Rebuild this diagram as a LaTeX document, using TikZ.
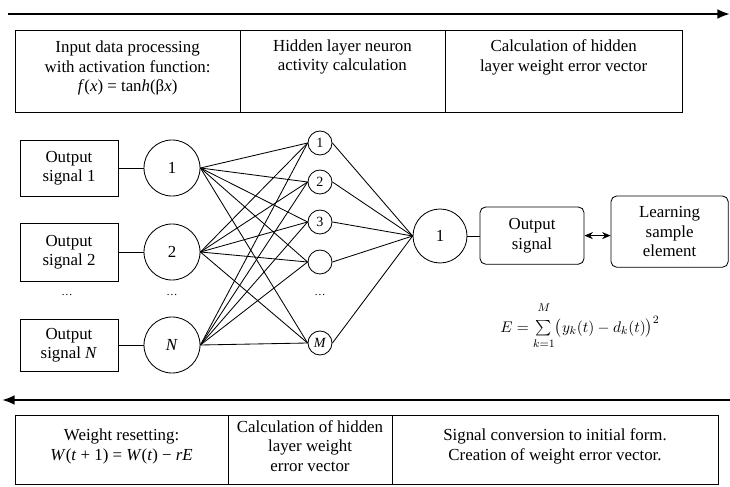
\documentclass[tikz,border=0pt]{standalone}
\usepackage{fontspec}
\setmainfont{Liberation Serif}
\usepackage{amsmath}
\usetikzlibrary{arrows.meta,positioning}

\tikzset{
  sigbox/.style={draw, line width=0.6pt, minimum width=2.45cm, minimum height=1.4cm, align=center, inner sep=2pt},
  outbox/.style={sigbox, rounded corners=4pt},
  neuron/.style={draw, circle, line width=0.6pt, minimum size=1.4cm, inner sep=0pt},
  hid/.style={draw, circle, line width=0.6pt, minimum size=0.6cm, inner sep=0pt, font=\fontsize{10}{11}\selectfont},
  link/.style={line width=0.6pt},
  flow/.style={line width=1.6pt, -{Latex[length=9pt,width=7pt]}},
  celltext/.style={align=center},
  gap/.style={font=\fontsize{8}{9}\selectfont}
}

\begin{document}
\begin{tikzpicture}[font=\fontsize{12}{13.8}\selectfont]
  \useasboundingbox (0,0) rectangle (18.25,12.15);

  % Forward direction
  \coordinate (fwdA) at (0.2,11.8);
  \coordinate (fwdB) at (18.25,11.8);
  \draw[flow] (fwdA) -- (fwdB);

  % Top table
  \draw[line width=0.6pt] (0.375,9.35) rectangle (17.05,11.4);
  \draw[line width=0.6pt] (6.0,9.35) -- (6.0,11.4);
  \draw[line width=0.6pt] (11.125,9.35) -- (11.125,11.4);
  \node[celltext] (inproc) at (3.19,10.45) {Input data processing\\with activation function:\\\textit{f}(\textit{x}) = tan\textit{h}(β\textit{x})};
  \node[celltext] (hidact) at (8.56,10.72) {Hidden layer neuron\\activity calculation};
  \node[celltext] (hiderr) at (14.09,10.72) {Calculation of hidden\\layer weight error vector};

  % Input signals
  \node[sigbox] (sig1) at (1.725,7.95) {Output\\signal 1};
  \node[sigbox, minimum height=1.45cm] (sig2) at (1.725,5.85) {Output\\signal 2};
  \node[sigbox, minimum height=1.3cm] (sigN) at (1.725,3.525) {Output\\signal \textit{N}};

  % Input layer
  \node[neuron] (in1) at (4.3,7.95) {1};
  \node[neuron] (in2) at (4.3,5.85) {2};
  \node[neuron] (inN) at (4.3,3.525) {\textit{N}};

  % Hidden layer
  \node[hid] (h1) at (8.0,8.575) {1};
  \node[hid] (h2) at (8.0,7.6) {2};
  \node[hid] (h3) at (8.0,6.6) {3};
  \node[hid] (h4) at (8.0,5.6) {};
  \node[hid] (hM) at (8.0,3.575) {\textit{M}};

  % Gaps
  \node[gap] (gapA) at (1.675,4.775) {\dots};
  \node[gap] (gapB) at (4.3,4.775) {\dots};
  \node[gap] (gapC) at (8.0,4.775) {\dots};

  % Output side
  \node[neuron, minimum size=1.35cm] (out) at (11.0,6.25) {1};
  \node[outbox, minimum width=2.6cm, minimum height=1.43cm] (outsig) at (13.3,6.26) {Output\\signal};
  \node[outbox, minimum width=2.93cm, minimum height=1.78cm] (learn) at (16.74,6.36) {Learning\\sample\\element};

  % Links
  \foreach \s/\n in {sig1/in1, sig2/in2, sigN/inN}
    \draw[link] (\s.east) -- (\n.west);
  \foreach \n in {in1,in2,inN}
    \foreach \h in {h1,h2,h3,h4,hM}
      \draw[link] (\n.east) -- (\h.west);
  \foreach \h in {h1,h2,h3,h4,hM}
    \draw[link] (\h.east) -- (out.west);
  \draw[link] (out.east) -- (out.east -| outsig.west);
  \draw[link, {Stealth[length=6pt,width=5pt]}-{Stealth[length=6pt,width=5pt]}] (outsig.east) -- (outsig.east -| learn.west);

  % Error
  \node[font=\fontsize{11}{13}\selectfont] (errf) at (14.5,4.0) {$E=\sum\limits_{\raisebox{-2pt}{$\scriptstyle k=1$}}^{\raisebox{4pt}{$\scriptstyle M$}}\bigl(y_k(t)-d_k(t)\bigr)^2$};

  % Backward direction
  \coordinate (bwdA) at (18.25,2.15);
  \coordinate (bwdB) at (0.05,2.15);
  \draw[flow] (bwdA) -- (bwdB);

  % Bottom table
  \draw[line width=0.6pt] (0.375,0.05) rectangle (17.95,1.775);
  \draw[line width=0.6pt] (5.7,0.05) -- (5.7,1.775);
  \draw[line width=0.6pt] (9.8,0.05) -- (9.8,1.775);
  \node[celltext] (reset) at (3.04,0.99) {Weight resetting:\\\textit{W}(\textit{t} + 1) = \textit{W}(\textit{t}) − \textit{rE}};
  \node[celltext] (hidvec) at (7.75,1.0) {Calculation of hidden\\layer weight\\error vector};
  \node[celltext] (conv) at (13.875,0.99) {Signal conversion to initial form.\\Creation of weight error vector.};
\end{tikzpicture}
\end{document}
